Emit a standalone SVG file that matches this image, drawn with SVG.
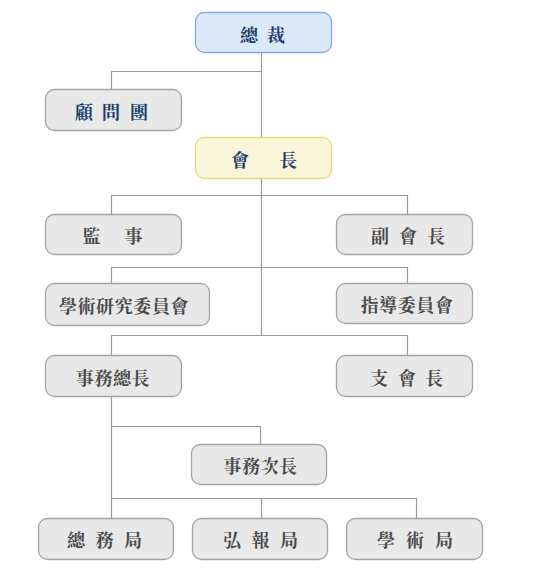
<svg xmlns="http://www.w3.org/2000/svg" width="550" height="573" viewBox="0 0 550 573">
<style>
.box{fill:#e8e8e8;stroke:#a3a3a3;stroke-width:1.3}
.top{fill:#dce9f9;stroke:#7aabe6;stroke-width:1.3}
.pres{fill:#fbf5da;stroke:#ebd87c;stroke-width:1.3}
.t{font-family:"Noto Serif CJK TC","Noto Sans CJK TC",serif;font-size:18px;font-weight:bold;text-anchor:middle;dominant-baseline:central;fill:#4a4a4a}
.b{fill:#163f6e}
.c{letter-spacing:0.6px}
#connectors path{fill:none;stroke:#9a9a9a;stroke-width:1.2}
</style>
<rect width="550" height="573" fill="#ffffff"/>
<g id="connectors">
<path d="M261.5 53 V335"/>
<path d="M111.5 89 V71.5 H261.5"/>
<path d="M111.5 214 V195.5 H407.5 V214"/>
<path d="M111.5 283 V267.5 H407.5 V283"/>
<path d="M111.5 355 V335.5 H407.5 V355"/>
<path d="M111.5 397 V518"/>
<path d="M111.5 426.5 H260.5 V444"/>
<path d="M111.5 498.5 H416.5 V518"/>
<path d="M261.5 498.5 V518"/>
</g>
<g id="n-president-top"><rect class="top" x="195.5" y="12.5" width="136" height="40" rx="9"/><text class="t b" x="249 276" y="34">總裁</text></g>
<g id="n-advisors"><rect class="box" x="45.5" y="89.5" width="136" height="41" rx="9"/><text class="t b" x="84 111 139" y="111">顧問團</text></g>
<g id="n-chairman"><rect class="pres" x="195.5" y="137.5" width="136" height="41" rx="9"/><text class="t b" x="240 288" y="158.5">會長</text></g>
<g id="n-supervisor"><rect class="box" x="45.5" y="214.5" width="136" height="40" rx="9"/><text class="t" x="91.5 133.5" y="234.5">監事</text></g>
<g id="n-vice"><rect class="box" x="336.5" y="214.5" width="136" height="40" rx="9"/><text class="t" x="380 408 436" y="234.5">副會長</text></g>
<g id="n-research"><rect class="box" x="45.5" y="283.5" width="164" height="42" rx="9"/><text class="t c" x="124" y="304.5">學術研究委員會</text></g>
<g id="n-guidance"><rect class="box" x="336.5" y="283.5" width="136" height="40" rx="9"/><text class="t c" x="407" y="304">指導委員會</text></g>
<g id="n-secgen"><rect class="box" x="45.5" y="355.5" width="136" height="41" rx="9"/><text class="t c" x="113" y="376.5">事務總長</text></g>
<g id="n-branch"><rect class="box" x="336.5" y="355.5" width="136" height="41" rx="9"/><text class="t" x="379 407 434" y="376.5">支會長</text></g>
<g id="n-deputy"><rect class="box" x="191.5" y="444.5" width="135" height="40" rx="9"/><text class="t c" x="260.5" y="465">事務次長</text></g>
<g id="n-general"><rect class="box" x="38.5" y="518.5" width="135" height="41" rx="9"/><text class="t" x="76 104.5 133" y="539">總務局</text></g>
<g id="n-pr"><rect class="box" x="192.5" y="518.5" width="135" height="41" rx="9"/><text class="t" x="232 260.5 289" y="539">弘報局</text></g>
<g id="n-academic"><rect class="box" x="346.5" y="518.5" width="136" height="41" rx="9"/><text class="t" x="386 415 444" y="539">學術局</text></g>
</svg>
